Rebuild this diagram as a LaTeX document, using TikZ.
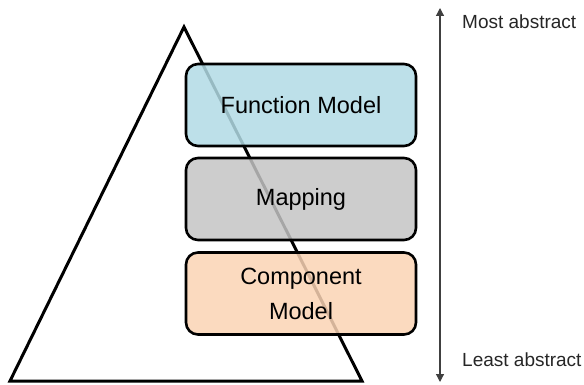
\documentclass[tikz,border=0pt]{standalone}
\usepackage{fontspec}
\setmainfont{Liberation Sans}
\usepackage{xcolor}
\usetikzlibrary{positioning, arrows.meta}

\definecolor{funcblue}{RGB}{178,219,229}
\definecolor{mapgray}{RGB}{196,196,196}
\definecolor{comppeach}{RGB}{250,211,180}

\begin{document}
\begin{tikzpicture}[
      x=1pt, y=-1pt,
      box/.style={rectangle, rounded corners=12pt, draw=black, line width=2.6pt, fill opacity=0.85, text opacity=1, minimum height=82pt, minimum width=230pt, align=center, font=\fontsize{23.5}{35}\selectfont},
      arrow/.style={{Triangle[length=8pt,width=8pt]}-{Triangle[length=8pt,width=8pt]}, line width=1.2pt, draw=black!75},
      label/.style={anchor=west, inner sep=0pt, font=\fontsize{19}{22}\selectfont, text=black!85}
    ]
      \useasboundingbox (0,0) rectangle (584,385);

      % Pyramid
      \draw[line width=3pt, line join=miter] (184,27) -- (10,381) -- (362,381) -- cycle;

      % Boxes
      \node[box, fill=funcblue] (func) at (301,105) {Function Model};
      \node[box, fill=mapgray] (map) at (301,199) {Mapping};
      \node[box, fill=comppeach] (comp) at (301,293.5) {Component\\Model};

      % Scale of abstraction
      \coordinate (top) at (440,8);
      \coordinate (bottom) at (440,382);
      \draw[arrow] (top) -- (bottom);
      \node[label] (most) at (462,22) {Most abstract};
      \node[label] (least) at (462,360) {Least abstract};
    \end{tikzpicture}
\end{document}
